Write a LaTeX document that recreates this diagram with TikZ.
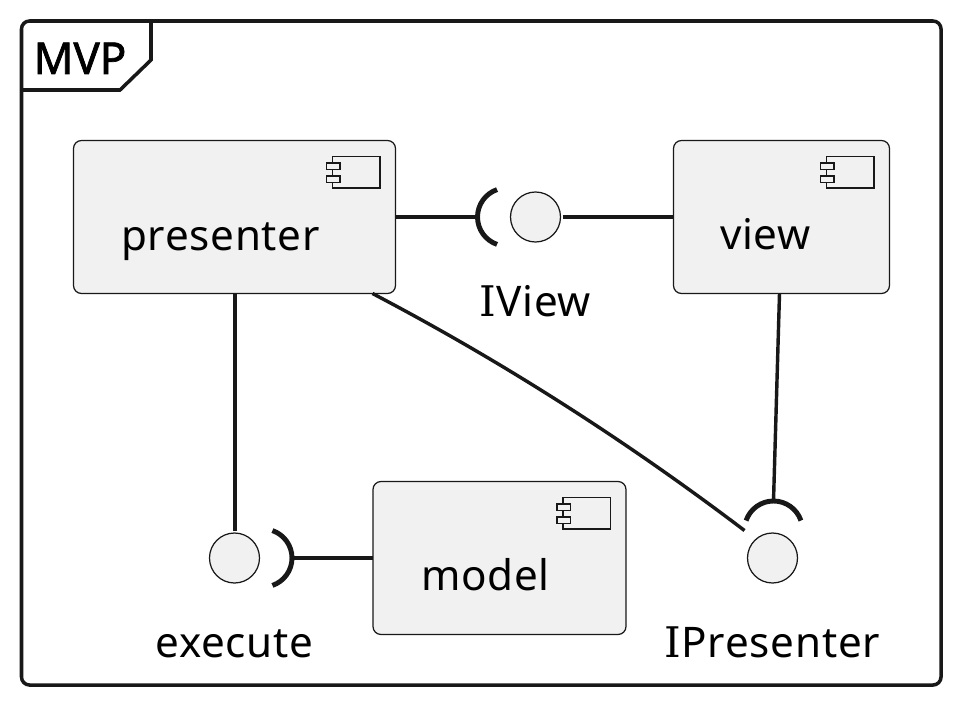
\documentclass[tikz,border=0pt]{standalone}
\usepackage{fontspec}
\setmainfont{Noto Sans}[LetterSpace=1.8]
\newfontfamily\mvpfont{Noto Sans}[FakeBold=1.6]
\newfontfamily\capfont{DejaVu Serif}
\usepackage{tikz}
\definecolor{boxfill}{HTML}{F1F1F1}
\definecolor{ink}{HTML}{181818}
\tikzstyle{comp} =
[rectangle, rounded corners = 0.16cm, minimum height = 3.06cm, outer sep = 0pt,
inner sep = 0pt, draw=ink, line width = 0.7pt, fill=boxfill]
\tikzstyle{iface} =
[circle, minimum size = 1cm, inner sep = 0pt, outer sep = 0pt,
draw=ink, line width = 0.7pt, fill=boxfill]
\tikzstyle{caption} =
[anchor = base, inner sep = 0pt, text=black, font=\fontsize{24}{28}\selectfont]
\tikzstyle{link} = [draw=ink, line width = 1.95pt]
\tikzstyle{cup} = [draw=ink, line width = 2.8pt]
\tikzstyle{frame} = [draw=ink, line width = 2pt]
\tikzstyle{icon} = [draw=ink, line width = 0.7pt, fill=boxfill]
% small component mark, hung from the corner of a box
\newcommand{\compicon}[1]{
  \draw [icon] ([shift={(-1.26,-0.32)}]#1.north east) rectangle
   ([shift={(-0.31,-0.95)}]#1.north east);
  \foreach \dy in {-0.45,-0.71} {
    \draw [icon] ([shift={(-1.38,\dy)}]#1.north east) rectangle
     ([shift={(-1.11,\dy-0.13)}]#1.north east);
  }
}
\begin{document}
\begin{tikzpicture}[node distance = 1.5cm]
  \useasboundingbox (-4.69,4.34) rectangle (14.43,-9.66);
  % outer frame
  \draw [frame, rounded corners = 0.16cm] (-4.26,3.92) rectangle (14.13,-9.36);
  \draw [frame] (-1.67,3.92) -- (-1.67,3.14) -- (-2.29,2.54) -- (-4.26,2.54);
  \node [caption, font=\fontsize{25}{28}\mvpfont] (mvp)
   at (-3.09,2.86) {MVP};
  % components
  \node [comp, minimum width = 6.44cm] (presenter) at (0,0) {};
  \node [comp, minimum width = 4.32cm, right of=presenter,
   node distance=10.94cm] (view) {};
  \node [iface, right of=presenter, node distance=6.02cm] (iview) {};
  \node [iface, below of=presenter, node distance=6.82cm] (execute) {};
  \node [comp, minimum width = 5.06cm, right of=execute,
   node distance=5.3cm] (model) {};
  \node [iface, right of=execute, node distance=10.76cm] (ipresenter) {};
  % icons
  \compicon{presenter}
  \compicon{view}
  \compicon{model}
  % texts
  \node [below of=presenter, node distance=0.66cm, xshift=-0.28cm, caption]
   (presentertext) {presenter};
  \node [below of=view, node distance=0.65cm, xshift=-0.32cm, caption]
   (viewtext) {view};
  \node [below of=model, node distance=0.65cm, xshift=-0.28cm, caption]
   (modeltext) {model};
  \node [below of=iview, node distance=1.99cm, caption]
   (iviewtext) {{\capfont I}View};
  \node [below of=execute, node distance=1.99cm, caption]
   (executetext) {execute};
  \node [below of=ipresenter, node distance=1.99cm, caption]
   (ipresentertext) {{\capfont I}Presenter};
  % sockets
  \coordinate [left of=iview, node distance=1.16cm] (iviewcup);
  \coordinate [right of=execute, node distance=1.15cm] (executecup);
  \coordinate [above of=ipresenter, node distance=1.14cm, xshift=0.02cm]
   (ipresentercup);
  \coordinate (curveend) at ([shift={(-0.56,0.55)}]ipresenter.center);
  \draw [cup] (iviewcup) arc (180:109:0.58) (iviewcup) arc (180:251:0.58);
  \draw [cup] (executecup) arc (0:71:0.58) (executecup) arc (0:-71:0.58);
  \draw [cup] (ipresentercup) arc (90:19:0.58) (ipresentercup) arc (90:161:0.58);
  % edges
  \path [link] (presenter.east) -- (iviewcup);
  \path [link] (iview) ++(0.54,0) -- (view.west);
  \path [link] ([xshift=0.01cm]presenter.south) -- ([xshift=0.01cm,yshift=0.54cm]execute.center);
  \path [link] (executecup) -- (model.west);
  \path [link] ([xshift=-0.04cm]view.south) -- (ipresentercup);
  \path [link] ([xshift=-0.46cm]presenter.south east)
   .. controls +(2.48,-1.3) and +(-2.48,1.88) .. (curveend);
\end{tikzpicture}
\end{document}
